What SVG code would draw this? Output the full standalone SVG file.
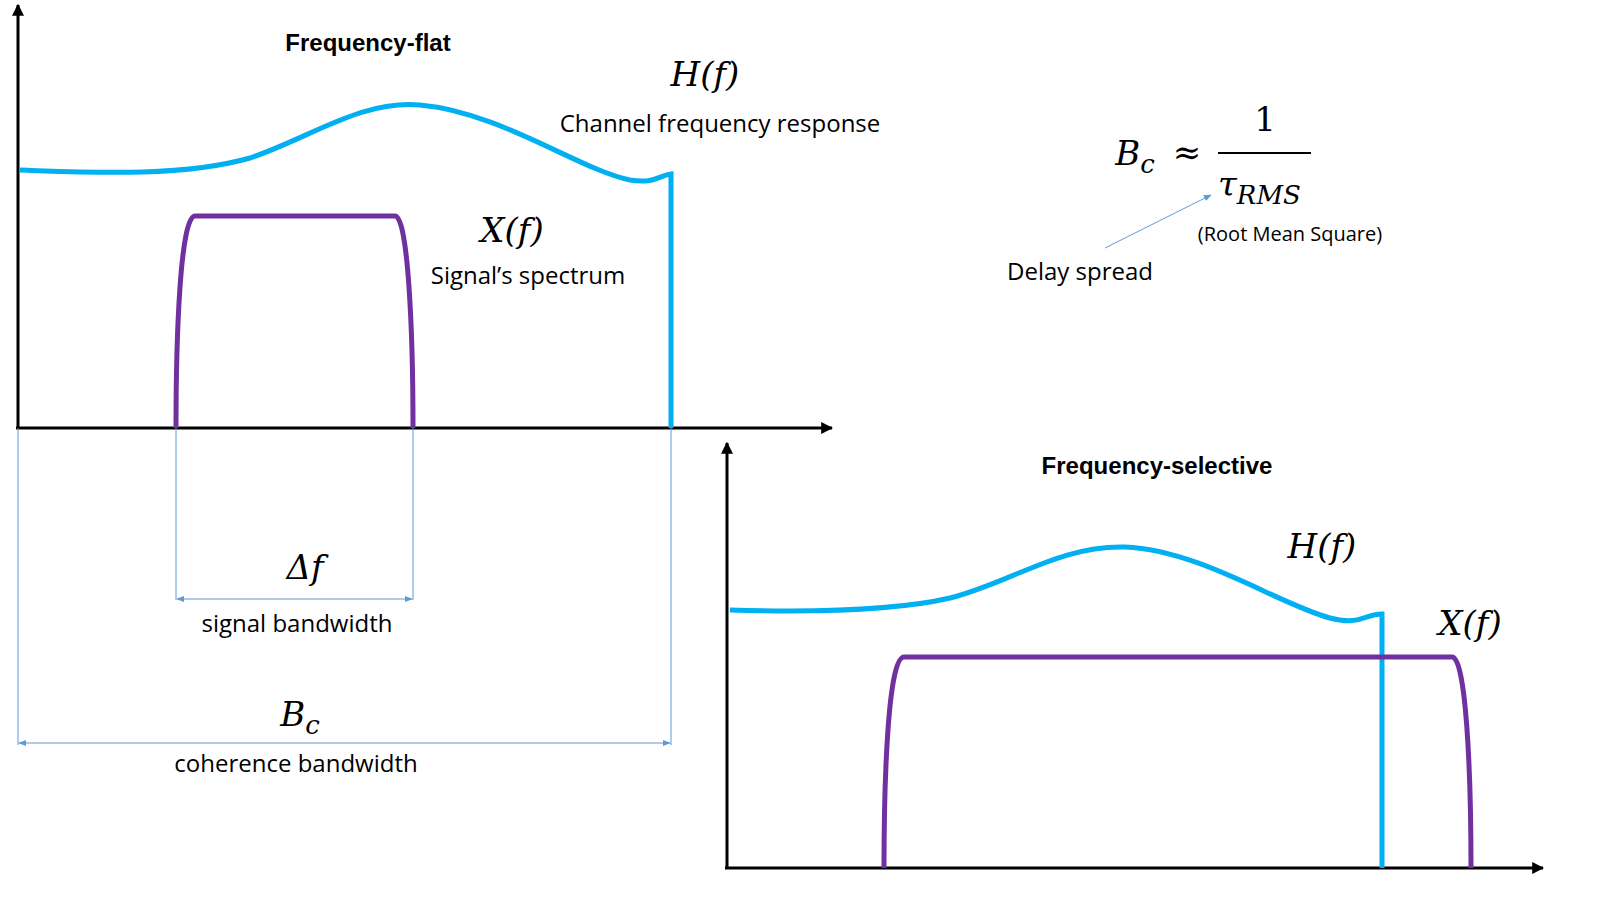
<svg xmlns="http://www.w3.org/2000/svg" width="1600" height="901" viewBox="0 0 1600 901">
<style>
.ax{stroke:#000;stroke-width:3;fill:none}
.h{stroke:#00B0F0;stroke-width:5;fill:none}
.x{stroke:#7030A0;stroke-width:5;fill:none}
.d{stroke:#5B9BD5;stroke-width:1;fill:none}
.t{font-family:"Open Sans","Liberation Sans",sans-serif;font-size:24px;fill:#000;text-anchor:middle}
.b{font-family:"Liberation Sans",sans-serif;font-size:24px;font-weight:bold;fill:#000;text-anchor:middle}
.m{font-family:"DejaVu Serif","Liberation Serif",serif;font-style:italic;font-size:34px;fill:#000;text-anchor:middle}
</style>
<defs>
<marker id="ah" viewBox="0 0 10 10" refX="9" refY="5" markerWidth="4" markerHeight="4" orient="auto-start-reverse"><path d="M0,0L10,5L0,10z" fill="#000"/></marker>
<marker id="da" viewBox="0 0 10 10" refX="9" refY="5" markerWidth="8" markerHeight="8" orient="auto-start-reverse"><path d="M0,1L10,5L0,9z" fill="#5B9BD5"/></marker>
</defs>
<g id="axes-top">
<line class="ax" x1="18" y1="428" x2="18" y2="5" marker-end="url(#ah)"/>
<line class="ax" x1="16" y1="428" x2="832" y2="428" marker-end="url(#ah)"/>
</g>
<g id="axes-bottom">
<line class="ax" x1="727" y1="868" x2="727" y2="443" marker-end="url(#ah)"/>
<line class="ax" x1="725" y1="868" x2="1543" y2="868" marker-end="url(#ah)"/>
</g>
<g id="curves-top">
<path class="h" d="M20,170 C80,172 180,178 250,158 C310,138 360,100 420,105 C500,112 580,170 630,180 C655,184 660,175 671,174 L671,428"/>
<path class="x" d="M176,428 C176,340 180,216 195,216 L395,216 C408,216 413,330 413,428"/>
</g>
<g id="curves-bottom">
<path class="h" d="M730,610 C800,612 890,612 950,598 C1010,583 1060,545 1125,547 C1200,550 1280,605 1330,618 C1360,626 1365,614 1382,614 L1382,868"/>
<path class="x" d="M884,868 C884,780 888,657 904,657 L1452,657 C1466,657 1471,770 1471,868"/>
</g>
<g id="connectors">
<line class="d" x1="176" y1="428" x2="176" y2="600"/>
<line class="d" x1="413" y1="428" x2="413" y2="600"/>
<line class="d" x1="177" y1="599" x2="412" y2="599" marker-start="url(#da)" marker-end="url(#da)"/>
<line class="d" x1="18" y1="428" x2="18" y2="745"/>
<line class="d" x1="671" y1="428" x2="671" y2="745"/>
<line class="d" x1="19" y1="743" x2="670" y2="743" marker-start="url(#da)" marker-end="url(#da)"/>
<line class="d" x1="1105" y1="248" x2="1211" y2="195" marker-end="url(#da)"/>
</g>
<g id="labels">
<text class="b" x="368" y="51">Frequency-flat</text>
<text class="m" x="705" y="86">H(f)</text>
<text class="t" x="720" y="132">Channel frequency response</text>
<text class="m" x="512" y="242">X(f)</text>
<text class="t" x="528" y="284">Signal’s spectrum</text>
<text class="m" x="305" y="579">Δf</text>
<text class="t" x="297" y="632">signal bandwidth</text>
<text class="m" x="300" y="726">B<tspan font-size="26" dy="8">c</tspan></text>
<text class="t" x="296" y="772">coherence bandwidth</text>
<text class="b" x="1157" y="474">Frequency-selective</text>
<text class="m" x="1322" y="558">H(f)</text>
<text class="m" x="1470" y="635">X(f)</text>
</g>
<g id="formula">
<text class="m" x="1135" y="165">B<tspan font-size="26" dy="8">c</tspan></text>
<text class="m" x="1187" y="164" style="font-style:normal">≈</text>
<text class="m" x="1265" y="131" style="font-style:normal">1</text>
<line x1="1218" y1="153" x2="1311" y2="153" stroke="#000" stroke-width="2"/>
<text class="m" x="1218" y="196" style="text-anchor:start">τ<tspan font-size="26" dy="8">RMS</tspan></text>
<text class="t" x="1290" y="241" style="font-size:20px">(Root Mean Square)</text>
<text class="t" x="1080" y="280">Delay spread</text>
</g>
</svg>
